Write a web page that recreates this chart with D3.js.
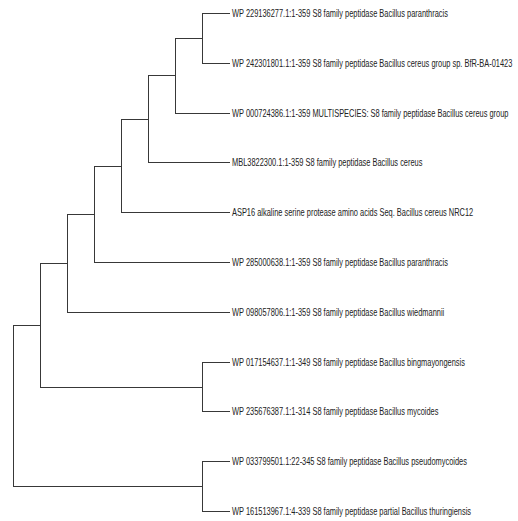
<!DOCTYPE html>
<html>
<head>
<meta charset="utf-8">
<script src="https://cdn.jsdelivr.net/npm/d3@7"></script>
<style>
  html, body { margin: 0; padding: 0; background: #fff; }
  svg { display: block; }
</style>
</head>
<body>
<svg id="tree" width="518" height="521"></svg>
<script>
// Taxa shown at the tips, top to bottom
const taxa = [
  "WP 229136277.1:1-359 S8 family peptidase Bacillus paranthracis",
  "WP 242301801.1:1-359 S8 family peptidase Bacillus cereus group sp. BfR-BA-01423",
  "WP 000724386.1:1-359 MULTISPECIES: S8 family peptidase Bacillus cereus group",
  "MBL3822300.1:1-359 S8 family peptidase Bacillus cereus",
  "ASP16 alkaline serine protease amino acids Seq. Bacillus cereus NRC12",
  "WP 285000638.1:1-359 S8 family peptidase Bacillus paranthracis",
  "WP 098057806.1:1-359 S8 family peptidase Bacillus wiedmannii",
  "WP 017154637.1:1-349 S8 family peptidase Bacillus bingmayongensis",
  "WP 235676387.1:1-314 S8 family peptidase Bacillus mycoides",
  "WP 033799501.1:22-345 S8 family peptidase Bacillus pseudomycoides",
  "WP 161513967.1:4-339 S8 family peptidase partial Bacillus thuringiensis"
];

// Tree topology as nested pairs of taxon indices
const topology = [[[[[[[[0, 1], 2], 3], 4], 5], 6], [7, 8]], [9, 10]];

const svg = d3.select("#tree");

const root = d3.hierarchy(topology, d => Array.isArray(d) ? d : null);
d3.cluster().nodeSize([1, 1]).separation(() => 1)(root);

const leaves = root.leaves();
const leafExtent = d3.extent(leaves, d => d.x);
const depthMax = d3.max(root.descendants(), d => d.y);

// horizontal: cluster depth (root at 0, tips at max)
const xScale = d3.scaleLinear().domain([0, depthMax]).range([13, 229]);
// vertical: tip order
const yScale = d3.scaleLinear().domain(leafExtent).range([13, 511]);

const g = svg.append("g");

g.selectAll("path.branch")
  .data(root.links())
  .join("path")
  .attr("class", "branch")
  .attr("fill", "none")
  .attr("stroke", "#383838")
  .attr("stroke-width", 1)
  .attr("shape-rendering", "crispEdges")
  .attr("d", l => {
    const px = Math.round(xScale(l.source.y)) + 0.5;
    const py = Math.round(yScale(l.source.x)) + 0.5;
    const cx = Math.round(xScale(l.target.y)) + 0.5;
    const cy = Math.round(yScale(l.target.x)) + 0.5;
    return `M${px},${py}V${cy}H${cx}`;
  });

const labels = g.selectAll("text.taxon")
  .data(leaves)
  .join("text")
  .attr("class", "taxon")
  .attr("font-family", "'Liberation Sans', Arial, sans-serif")
  .attr("font-size", 10)
  .attr("fill", "#222")
  .attr("dy", "0.35em")
  .text(d => taxa[d.data]);

// labels are set in a condensed face: squeeze horizontally so the longest one ends near the right edge
const widest = d3.max(labels.nodes(), n => n.getComputedTextLength());
const squeeze = (513 - 232) / widest;
labels.attr("transform", d => `translate(232,${yScale(d.x) + 0.5}) scale(${squeeze},1)`);
</script>
</body>
</html>
